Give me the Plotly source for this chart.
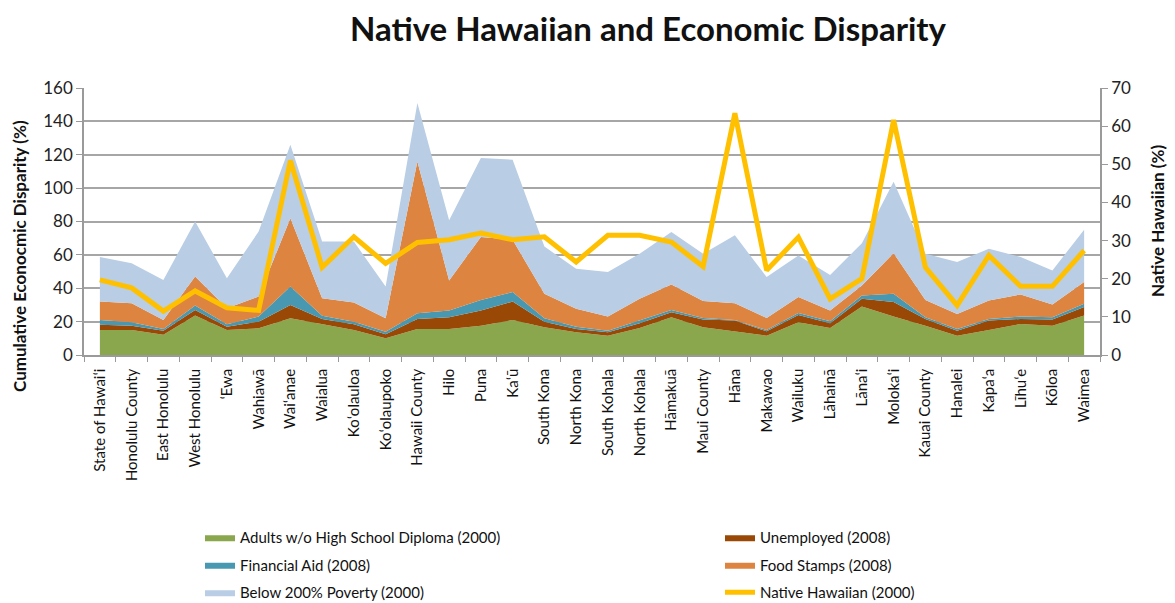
import plotly.graph_objects as go

categories = ["State of Hawaiʻi", "Honolulu County", "East Honolulu", "West Honolulu", "ʻEwa",
              "Wahiawā", "Waiʻanae", "Waialua", "Koʻolauloa", "Koʻolaupoko", "Hawaii County",
              "Hilo", "Puna", "Kaʻū", "South Kona", "North Kona", "South Kohala", "North Kohala",
              "Hāmakuā", "Maui County", "Hāna", "Makawao", "Wailuku", "Lāhainā", "Lānaʻi",
              "Molokaʻi", "Kauai County", "Hanalei", "Kapaʻa", "Līhuʻe", "Kōloa", "Waimea"]

# cumulative tops (left axis, %)
green_top = [15, 15, 12.2, 23.6, 15, 16, 22, 18.5, 15, 10, 15.6, 15.6, 17.6, 21, 16.6, 13.6,
             11.6, 16.2, 22.6, 16.6, 14.2, 11.6, 19.6, 16.2, 29, 23, 17.6, 11.6, 15, 18.6, 17.6, 23.6]
brown_top = [18.2, 17.6, 14.6, 27, 17, 20, 30, 21.5, 18.5, 12.5, 21.6, 22.6, 26.6, 32, 20, 15.6,
             13.6, 19, 25.6, 21.2, 20.6, 14.2, 24, 19, 33.7, 31.7, 21.6, 14.6, 20.6, 21.6, 21.2, 28.7]
teal_top = [21, 19.6, 15.6, 29.7, 18.5, 23, 41, 23.5, 20, 14, 25, 26.6, 33, 37.7, 22, 17,
            14.6, 21, 27, 22.2, 21, 15, 25.2, 20.2, 35.7, 36.7, 22.6, 15.6, 21.6, 23, 22.6, 30.7]
orange_top = [32, 31, 21, 47, 28, 35, 82, 34, 31.5, 22, 116, 44.7, 70.7, 69, 36.7, 27.7,
              23, 33.7, 42.3, 32.3, 31, 22.2, 34.7, 26.6, 41.7, 61, 33, 24.6, 32.7, 36.3, 30.3, 43.7]
blue_top = [58.7, 55, 45, 80, 46, 74, 126, 68, 68, 41, 151, 80.8, 118, 117, 65, 51.7,
            49.7, 60.7, 73.7, 60.7, 71.7, 46.7, 59.7, 48, 67, 103.8, 60.7, 55.7, 63.7, 58.7, 50.7, 75]
native_hawaiian = [19.7, 17.6, 11.5, 16.8, 12.4, 11.7, 51, 23, 31, 24, 29.5, 30.2, 32, 30.2, 31, 24.4,
                   31.4, 31.4, 29.6, 23.2, 63.4, 22.2, 30.9, 14.7, 20, 61.6, 23, 13, 26.1, 18, 18, 27.4]

def diff(top, bottom):
    return [round(t - b, 2) for t, b in zip(top, bottom)]

adults = green_top
unemployed = diff(brown_top, green_top)
financial_aid = diff(teal_top, brown_top)
food_stamps = diff(orange_top, teal_top)
poverty = diff(blue_top, orange_top)

FONT = "Lato"
# page body has an 8px margin, so the figure is sized to fit inside the window
W, H = 1167, 595
L, R, T = 76, 75, 80
B = H - 347
PW, PH = W - L - R, H - T - B

fig = go.Figure()

area_specs = [
    ("Adults w/o High School Diploma (2000)", adults, "#8aa74e", "legend"),
    ("Unemployed (2008)", unemployed, "#9a4806", "legend2"),
    ("Financial Aid (2008)", financial_aid, "#4798b0", "legend"),
    ("Food Stamps (2008)", food_stamps, "#dc8440", "legend2"),
    ("Below 200% Poverty (2000)", poverty, "#b9cde4", "legend"),
]
for name, vals, color, leg in area_specs:
    fig.add_trace(go.Scatter(x=categories, y=vals, name=name, stackgroup="one",
                             mode="lines", line=dict(width=0, color=color), fillcolor=color,
                             legend=leg, legendgroup=name))

fig.add_trace(go.Scatter(x=categories, y=native_hawaiian, name="Native Hawaiian (2000)",
                         mode="lines", line=dict(color="#ffc000", width=5), yaxis="y2",
                         legend="legend2", legendgroup="nh"))

legend_common = dict(font=dict(family=FONT, size=15, color="#111"), tracegroupgap=5,
                     bgcolor="rgba(0,0,0,0)", yanchor="top", xanchor="left",
                     xref="container", yref="container")

def px_x(x):
    return (x - L) / PW

def px_y(y):
    return (H - B - y) / PH

fig.update_layout(
    width=W, height=H,
    margin=dict(l=L, r=R, t=T, b=B, autoexpand=False),
    paper_bgcolor="white", plot_bgcolor="white",
    font=dict(family=FONT, color="#111"),
    title=dict(text="<b>Native Hawaiian and Economic Disparity</b>", x=640 / W, xref="container",
               xanchor="center", y=1 - 21 / H, yanchor="middle",
               font=dict(family=FONT, size=33, color="#111")),
    xaxis=dict(type="category", range=[-0.5, 31.5], tickangle=-90, tickfont=dict(size=15, family=FONT, color="#111"),
               showline=True, linecolor="#9a9a9a", linewidth=1.5, ticks="outside", tickson="boundaries",
               ticklen=5, tickcolor="#9a9a9a", showgrid=False, fixedrange=True, ticklabelstandoff=6),
    yaxis=dict(range=[0, 160], dtick=20, showgrid=True, gridcolor="#a6a6a6", gridwidth=1.5,
               showline=True, linecolor="#9a9a9a", linewidth=1.5, ticks="outside", ticklen=6,
               tickcolor="#9a9a9a", tickfont=dict(size=17, family=FONT, color="#222"), zeroline=False),
    yaxis2=dict(range=[0, 70], dtick=10, overlaying="y", side="right", showgrid=False,
                showline=True, linecolor="#9a9a9a", linewidth=1.5, ticks="outside", ticklen=6,
                tickcolor="#9a9a9a", tickfont=dict(size=17, family=FONT, color="#222"), zeroline=False),
    legend=dict(x=192 / W, y=1 - 513 / H, **legend_common),
    legend2=dict(x=712 / W, y=1 - 513 / H, **legend_common),
    annotations=[
        dict(text="<b>Cumulative Econocmic Disparity (%)</b>", textangle=-90,
             xref="paper", yref="paper", x=px_x(11), y=px_y(248),
             xanchor="center", yanchor="middle", showarrow=False,
             font=dict(size=17, family=FONT, color="#111")),
        dict(text="<b>Native Hawaiian (%)</b>", textangle=-90,
             xref="paper", yref="paper", x=px_x(1149), y=px_y(213),
             xanchor="center", yanchor="middle", showarrow=False,
             font=dict(size=17, family=FONT, color="#111")),
    ],
    showlegend=True,
)

fig.write_html("out.html")
